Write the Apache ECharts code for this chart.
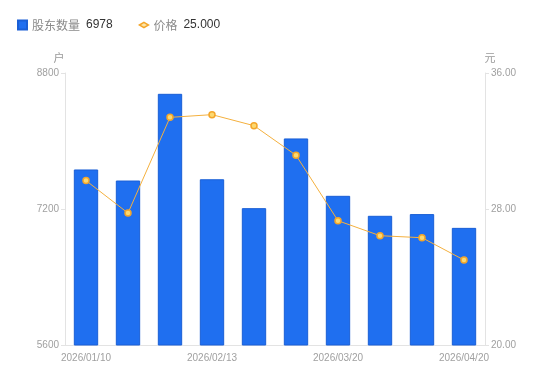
<!DOCTYPE html>
<html><head><meta charset="utf-8">
<script src="https://cdn.jsdelivr.net/npm/echarts@6/dist/echarts.min.js"></script>
<style>html,body{margin:0;padding:0;background:#fff}#c{width:550px;height:381px}</style>
</head><body><div id="c"></div>
<script>
var categories = ['2026/01/10','2026/01/20','2026/01/31','2026/02/13','2026/02/28','2026/03/10','2026/03/20','2026/03/31','2026/04/10','2026/04/20'];
var holders = [7665, 7535, 8555, 7550, 7210, 8030, 7355, 7120, 7140, 6978];
var prices = [29.67, 27.76, 33.39, 33.55, 32.90, 31.16, 27.31, 26.43, 26.31, 25.00];
var leftTicks = [5600, 8800, 1600];
var rightTicks = [20, 36, 8];

var chart = echarts.init(document.getElementById('c'), null, {renderer:'canvas'});
var lastH = holders[holders.length-1];
var lastP = prices[prices.length-1];
var F = '"Liberation Sans", Arial, sans-serif';
chart.setOption({
  animation:false,
  legend:{
    left:12, top:14, itemWidth:9, itemHeight:9, itemGap:26,
    textStyle:{fontFamily:F, fontSize:12,
      rich:{n:{color:'#8a8a8a',fontSize:12,fontFamily:'"Noto Sans CJK SC", sans-serif'},v:{color:'#333',fontSize:12,fontFamily:F,padding:[0,0,0,6]}}},
    data:[{name:'股东数量', icon:'rect'},
          {name:'价格', icon:'path://M0,0 M10,10 M0,5 L5,2 L10,5 L5,8 Z',
           itemStyle:{color:'#fde6a8', borderColor:'#f4a62a', borderWidth:1.5}}],
    formatter:function(n){ return n==='股东数量' ? '{n|'+n+'}{v|'+lastH+'}' : '{n|'+n+'}{v|'+lastP.toFixed(3)+'}'; }
  },
  grid:{left:65, right:65, top:73, bottom:36},
  xAxis:{
    type:'category', data:categories,
    axisLine:{lineStyle:{color:'#e3e3e3'}},
    axisTick:{show:false},
    axisLabel:{color:'#a0a0a0', fontSize:10, interval:2, margin:8, fontFamily:F}
  },
  yAxis:[{
    type:'value', name:'户', min:leftTicks[0], max:leftTicks[1], interval:leftTicks[2],
    nameTextStyle:{color:'#999', fontSize:11, padding:[0,12,0,0], fontFamily:'"Noto Sans CJK SC", sans-serif'},
    nameGap:10,
    axisLine:{show:true, lineStyle:{color:'#e3e3e3'}},
    axisTick:{show:true, length:4, lineStyle:{color:'#e3e3e3'}},
    splitLine:{show:false},
    axisLabel:{color:'#a0a0a0', fontSize:10, margin:6, fontFamily:F, formatter:function(v){return String(v);}}
  },{
    type:'value', name:'元', min:rightTicks[0], max:rightTicks[1], interval:rightTicks[2],
    nameTextStyle:{color:'#999', fontSize:11, padding:[0,0,0,10], fontFamily:'"Noto Sans CJK SC", sans-serif'},
    nameGap:10,
    axisLine:{show:true, lineStyle:{color:'#e3e3e3'}},
    axisTick:{show:true, length:4, lineStyle:{color:'#e3e3e3'}},
    splitLine:{show:false},
    axisLabel:{color:'#a0a0a0', fontSize:10, margin:6, fontFamily:F, formatter:function(v){return v.toFixed(2);}}
  }],
  series:[{
    name:'股东数量', type:'bar', data:holders, barWidth:'58%', yAxisIndex:0,
    itemStyle:{color:'#1f6ff0', borderColor:'#1a5fd6', borderWidth:1}
  },{
    name:'价格', type:'line', data:prices, yAxisIndex:1,
    symbol:'circle', symbolSize:6, showSymbol:true,
    lineStyle:{color:'#f4b03e', width:1},
    itemStyle:{color:'#fcd970', borderColor:'#f4a62a', borderWidth:1.5}
  }]
});
</script></body></html>
